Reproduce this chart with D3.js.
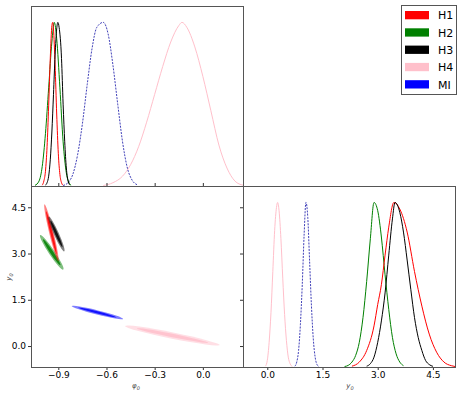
<!DOCTYPE html>
<html><head><meta charset="utf-8">
<script src="https://cdn.jsdelivr.net/npm/d3@7"></script>
<style>body{margin:0;background:#fff}svg{display:block}</style>
</head><body>
<svg id="c" width="463" height="396"></svg>
<script>
// ---------- data ----------
const series = ["H1","H2","H3","H4","MI"];
const colors = {H1:"#ff0000",H2:"#008000",H3:"#000000",H4:"#ffc0cb",MI:"#0000ff"};
const phiTicks = [-0.9,-0.6,-0.3,0.0];
const phiTickLabels = ["\u22120.9","\u22120.6","\u22120.3","0.0"];
const yTicks = [0.0,1.5,3.0,4.5];
const yTickLabels = ["0.0","1.5","3.0","4.5"];

// marginal density of phi0 (normalised to peak 1): [phi0, density]
const phiH1 = [[-1.0,0.005],[-0.99,0.03],[-0.98,0.09],[-0.97,0.24],[-0.96,0.49],[-0.95,0.78],[-0.94,0.98],[-0.935,1.0],[-0.93,0.96],[-0.92,0.74],[-0.91,0.44],[-0.90,0.2],[-0.89,0.07],[-0.88,0.02],[-0.87,0.004]];
const phiH2 = [[-1.045,0.004],[-1.02,0.03],[-1.0,0.12],[-0.98,0.32],[-0.96,0.6],[-0.94,0.88],[-0.925,1.0],[-0.91,0.9],[-0.89,0.6],[-0.87,0.27],[-0.85,0.08],[-0.83,0.015],[-0.82,0.003]];
const phiH3 = [[-0.98,0.005],[-0.97,0.02],[-0.96,0.06],[-0.95,0.16],[-0.94,0.33],[-0.93,0.56],[-0.92,0.8],[-0.91,0.96],[-0.903,1.0],[-0.895,0.97],[-0.88,0.78],[-0.87,0.5],[-0.86,0.27],[-0.85,0.11],[-0.84,0.035],[-0.83,0.008]];
const phiH4 = [[-0.62,0.003],[-0.56,0.02],[-0.50,0.06],[-0.45,0.13],[-0.40,0.24],[-0.35,0.39],[-0.30,0.56],[-0.25,0.73],[-0.20,0.88],[-0.15,0.98],[-0.13,1.0],[-0.10,0.97],[-0.05,0.85],[0.0,0.67],[0.05,0.46],[0.10,0.25],[0.15,0.11],[0.20,0.03],[0.25,0.005]];
const phiMI = [[-0.87,0.003],[-0.84,0.02],[-0.81,0.07],[-0.78,0.19],[-0.75,0.38],[-0.72,0.62],[-0.69,0.84],[-0.66,0.97],[-0.62,1.0],[-0.59,0.93],[-0.56,0.74],[-0.53,0.5],[-0.50,0.27],[-0.47,0.11],[-0.44,0.035],[-0.41,0.008]];

// marginal density of y0 (normalised to peak 1): [y0, density]
const yH1 = [[2.3,0.005],[2.5,0.03],[2.7,0.1],[2.9,0.25],[3.0,0.38],[3.1,0.5],[3.2,0.68],[3.3,0.85],[3.44,1.0],[3.6,0.96],[3.8,0.82],[4.0,0.58],[4.2,0.37],[4.4,0.2],[4.6,0.09],[4.8,0.03],[5.0,0.008],[5.1,0.003]];
const yH2 = [[2.1,0.003],[2.2,0.01],[2.3,0.03],[2.4,0.07],[2.5,0.15],[2.6,0.3],[2.7,0.52],[2.8,0.78],[2.9,1.0],[3.0,0.95],[3.1,0.79],[3.2,0.56],[3.3,0.35],[3.4,0.18],[3.5,0.08],[3.6,0.03],[3.7,0.008]];
const yH3 = [[2.7,0.005],[2.8,0.02],[2.9,0.06],[3.0,0.15],[3.1,0.28],[3.2,0.45],[3.3,0.68],[3.4,0.9],[3.47,1.0],[3.6,0.94],[3.7,0.82],[3.8,0.65],[3.9,0.47],[4.0,0.3],[4.1,0.18],[4.2,0.1],[4.3,0.04],[4.4,0.015],[4.5,0.004]];
const yH4 = [[-0.05,0.005],[0.0,0.04],[0.05,0.15],[0.1,0.33],[0.15,0.58],[0.2,0.83],[0.25,0.97],[0.28,1.0],[0.32,0.95],[0.37,0.78],[0.42,0.54],[0.47,0.32],[0.52,0.16],[0.57,0.06],[0.62,0.02],[0.68,0.003]];
const yMI = [[0.75,0.005],[0.8,0.03],[0.85,0.1],[0.9,0.26],[0.95,0.5],[1.0,0.8],[1.05,1.0],[1.1,0.91],[1.15,0.64],[1.2,0.37],[1.25,0.17],[1.3,0.06],[1.35,0.015],[1.4,0.003]];

// joint contours: ends of the long axis [phi0, y0] and width ratio
const jointH1 = {a:[-0.986,4.6], b:[-0.90,2.75], w:0.075};
const jointH2 = {a:[-1.013,3.6], b:[-0.869,2.48], w:0.14};
const jointH3 = {a:[-0.96,4.2], b:[-0.863,3.07], w:0.13};
const jointH4 = {a:[-0.485,0.65], b:[0.106,0.03], w:0.065};
const jointMI = {a:[-0.817,1.30], b:[-0.496,0.877], w:0.08};

const phiDens = {H1:phiH1,H2:phiH2,H3:phiH3,H4:phiH4,MI:phiMI};
const yDens = {H1:yH1,H2:yH2,H3:yH3,H4:yH4,MI:yMI};
const joint = {H1:jointH1,H2:jointH2,H3:jointH3,H4:jointH4,MI:jointMI};

// ---------- layout ----------
const L=31, M=243, R=455, T=6, MID=186, B=367;
const svg = d3.select("#c");
const xPhi = d3.scaleLinear().domain([-1.07,0.25]).range([L,M]);
const yY = d3.scaleLinear().domain([-0.68,5.19]).range([B,MID]);
const xY = d3.scaleLinear().domain([-0.66,5.10]).range([M,R]);
const dTop = d3.scaleLinear().domain([0,1.1]).range([MID,T]);
const dBR = d3.scaleLinear().domain([0,1.1]).range([B,MID]);

const defs = svg.append("defs");
function clip(id,x,y,w,h){defs.append("clipPath").attr("id",id).append("rect").attr("x",x).attr("y",y).attr("width",w).attr("height",h);}
clip("cTop",L,T,M-L,MID-T); clip("cBL",L,MID,M-L,B-MID); clip("cBR",M,MID,R-M,B-MID);

const lineStyle = s => s==="MI" ? {c:"#2a2ab0",d:"2,1.2",w:0.9} : {c:colors[s],d:null,w:1};

// top: phi0 marginals
const gTop = svg.append("g").attr("clip-path","url(#cTop)");
const lTop = d3.line().x(d=>xPhi(d[0])).y(d=>dTop(d[1])).curve(d3.curveMonotoneX);
["H4","MI","H2","H1","H3"].forEach(s=>{
  const st=lineStyle(s);
  gTop.append("path").attr("d",lTop(phiDens[s])).attr("fill","none").attr("stroke",st.c)
    .attr("stroke-width",st.w).attr("stroke-dasharray",st.d);
});

// bottom-right: y0 marginals
const gBR = svg.append("g").attr("clip-path","url(#cBR)");
const lBR = d3.line().x(d=>xY(d[0])).y(d=>dBR(d[1])).curve(d3.curveMonotoneX);
["H4","MI","H2","H1","H3"].forEach(s=>{
  const st=lineStyle(s);
  gBR.append("path").attr("d",lBR(yDens[s])).attr("fill","none").attr("stroke",st.c)
    .attr("stroke-width",st.w).attr("stroke-dasharray",st.d);
});

// bottom-left: joint contours
const gBL = svg.append("g").attr("clip-path","url(#cBL)");
["H4","MI","H2","H1","H3"].forEach(s=>{
  const j=joint[s];
  const x1=xPhi(j.a[0]), y1=yY(j.a[1]), x2=xPhi(j.b[0]), y2=yY(j.b[1]);
  const cx=(x1+x2)/2, cy=(y1+y2)/2;
  const rx=Math.hypot(x2-x1,y2-y1)/2, ry=rx*j.w;
  const ang=Math.atan2(y2-y1,x2-x1)*180/Math.PI;
  const g=gBL.append("g").attr("transform",`translate(${cx},${cy}) rotate(${ang})`);
  g.append("ellipse").attr("rx",rx).attr("ry",ry).attr("fill",colors[s]).attr("fill-opacity",0.5);
  g.append("ellipse").attr("rx",rx*0.75).attr("ry",ry*0.55).attr("fill",colors[s]).attr("fill-opacity",0.85);
});

// axes
const font = "DejaVu Sans";
function styleAxis(g){
  g.select(".domain").remove();
  g.selectAll(".tick line").attr("stroke","#333");
  g.selectAll(".tick text").attr("font-family",font).attr("font-size",9).attr("fill","#000");
}
svg.append("g").attr("transform",`translate(0,${B})`)
  .call(d3.axisBottom(xPhi).tickValues(phiTicks).tickFormat((d,i)=>phiTickLabels[i]).tickSize(3).tickPadding(2))
  .call(styleAxis);
svg.append("g").attr("transform",`translate(${L},0)`)
  .call(d3.axisLeft(yY).tickValues(yTicks).tickFormat((d,i)=>yTickLabels[i]).tickSize(3).tickPadding(2))
  .call(styleAxis);
svg.append("g").attr("transform",`translate(0,${B})`)
  .call(d3.axisBottom(xY).tickValues(yTicks).tickFormat((d,i)=>yTickLabels[i]).tickSize(3).tickPadding(2))
  .call(styleAxis);
// top panel ticks (inward, no labels)
svg.append("g").attr("transform",`translate(0,${MID})`)
  .call(d3.axisTop(xPhi).tickValues(phiTicks).tickFormat("").tickSize(3))
  .call(styleAxis);
// bottom-right left ticks
svg.append("g").attr("transform",`translate(${M},0)`)
  .call(d3.axisLeft(yY).tickValues(yTicks).tickFormat("").tickSize(3))
  .call(styleAxis);

// frames
const fr = (x,y,w,h)=>svg.append("rect").attr("x",x+0.5).attr("y",y+0.5).attr("width",w).attr("height",h)
  .attr("fill","none").attr("stroke","#555").attr("stroke-width",1);
fr(L,T,M-L,MID-T); fr(L,MID,M-L,B-MID); fr(M,MID,R-M,B-MID);

// axis labels
function label(x,y,rot){
  const t=svg.append("text").attr("x",x).attr("y",y).attr("font-family",font).attr("font-size",7)
    .attr("font-style","italic").attr("text-anchor","middle").attr("fill","#444");
  if(rot) t.attr("transform",`rotate(-90,${x},${y})`);
  return t;
}
let t1=label(136,388); t1.append("tspan").text("\u03c6"); t1.append("tspan").attr("font-size",5).attr("dy",1.5).text("0");
let t2=label(350,388); t2.append("tspan").text("y"); t2.append("tspan").attr("font-size",5).attr("dy",1.5).text("0");
let t3=label(11,277,true); t3.append("tspan").text("y"); t3.append("tspan").attr("font-size",5).attr("dy",1.5).text("0");

// legend
const lg = svg.append("g");
lg.append("rect").attr("x",401.5).attr("y",5.5).attr("width",55).attr("height",89)
  .attr("fill","#fff").attr("stroke","#555");
series.forEach((s,i)=>{
  const y=11+i*17.3;
  lg.append("rect").attr("x",405).attr("y",y).attr("width",24).attr("height",8.3).attr("fill",colors[s]);
  lg.append("text").attr("x",438).attr("y",y+8.3).attr("font-family",font).attr("font-size",11).text(s);
});
</script>
</body></html>
